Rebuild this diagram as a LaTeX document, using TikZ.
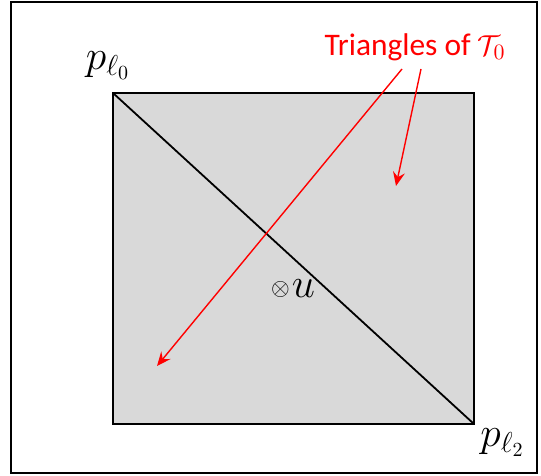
\documentclass[tikz,border=0pt]{standalone}
\usepackage{amsmath,amssymb}
\usepackage{fontspec}
\newfontfamily\notefont{Carlito}
\usepackage{tikz}
\usetikzlibrary{arrows.meta, positioning, calc}
\definecolor{regiongray}{RGB}{217, 217, 217}
\definecolor{pointerred}{RGB}{255, 0, 0}

\begin{document}
\begin{tikzpicture}[
    x=0.5pt, y=-0.5pt,
    frame/.style={draw=black, line width=1pt},
    region/.style={draw=black, fill=regiongray, line width=0.7pt},
    edge/.style={black, line width=0.9pt},
    pointer/.style={-{Stealth[length=7pt, width=6pt, inset=2.5pt]}, color=pointerred, line width=0.7pt},
    mathlabel/.style={font=\fontsize{20}{24}\selectfont, inner sep=0pt},
    note/.style={font=\notefont\fontsize{15.7}{19}\selectfont, text=pointerred, inner sep=0pt}
]
    \useasboundingbox (0,0) rectangle (541,476);
    \draw[frame] (11,2) rectangle (537,473);

    \coordinate (pl0) at (113,93);
    \coordinate (pl2) at (474,424);
    \draw[region] (pl0) rectangle (pl2);
    \draw[edge] (pl0) -- (pl2);

    \node[mathlabel, above=6.5pt of pl0, xshift=-2.5pt] (lbl0) {$p_{\ell_0}$};
    \node[mathlabel, below right=2pt and 3pt of pl2] (lbl2) {$p_{\ell_2}$};
    \node[mathlabel] (u) at (293,289) {\raisebox{1pt}{\fontsize{13}{13}\selectfont$\otimes$}\kern1pt$u$};

    \node[note] (tri) at (415,47) {Triangles of $\mathcal{T}_0$};
    \coordinate (s1) at (402,69);
    \coordinate (s2) at (421,69);
    \coordinate (t1) at (157,366);
    \coordinate (t2) at (396,186);

    \draw[pointer] (s1) -- (t1);
    \draw[pointer] (s2) -- (t2);
\end{tikzpicture}
\end{document}
